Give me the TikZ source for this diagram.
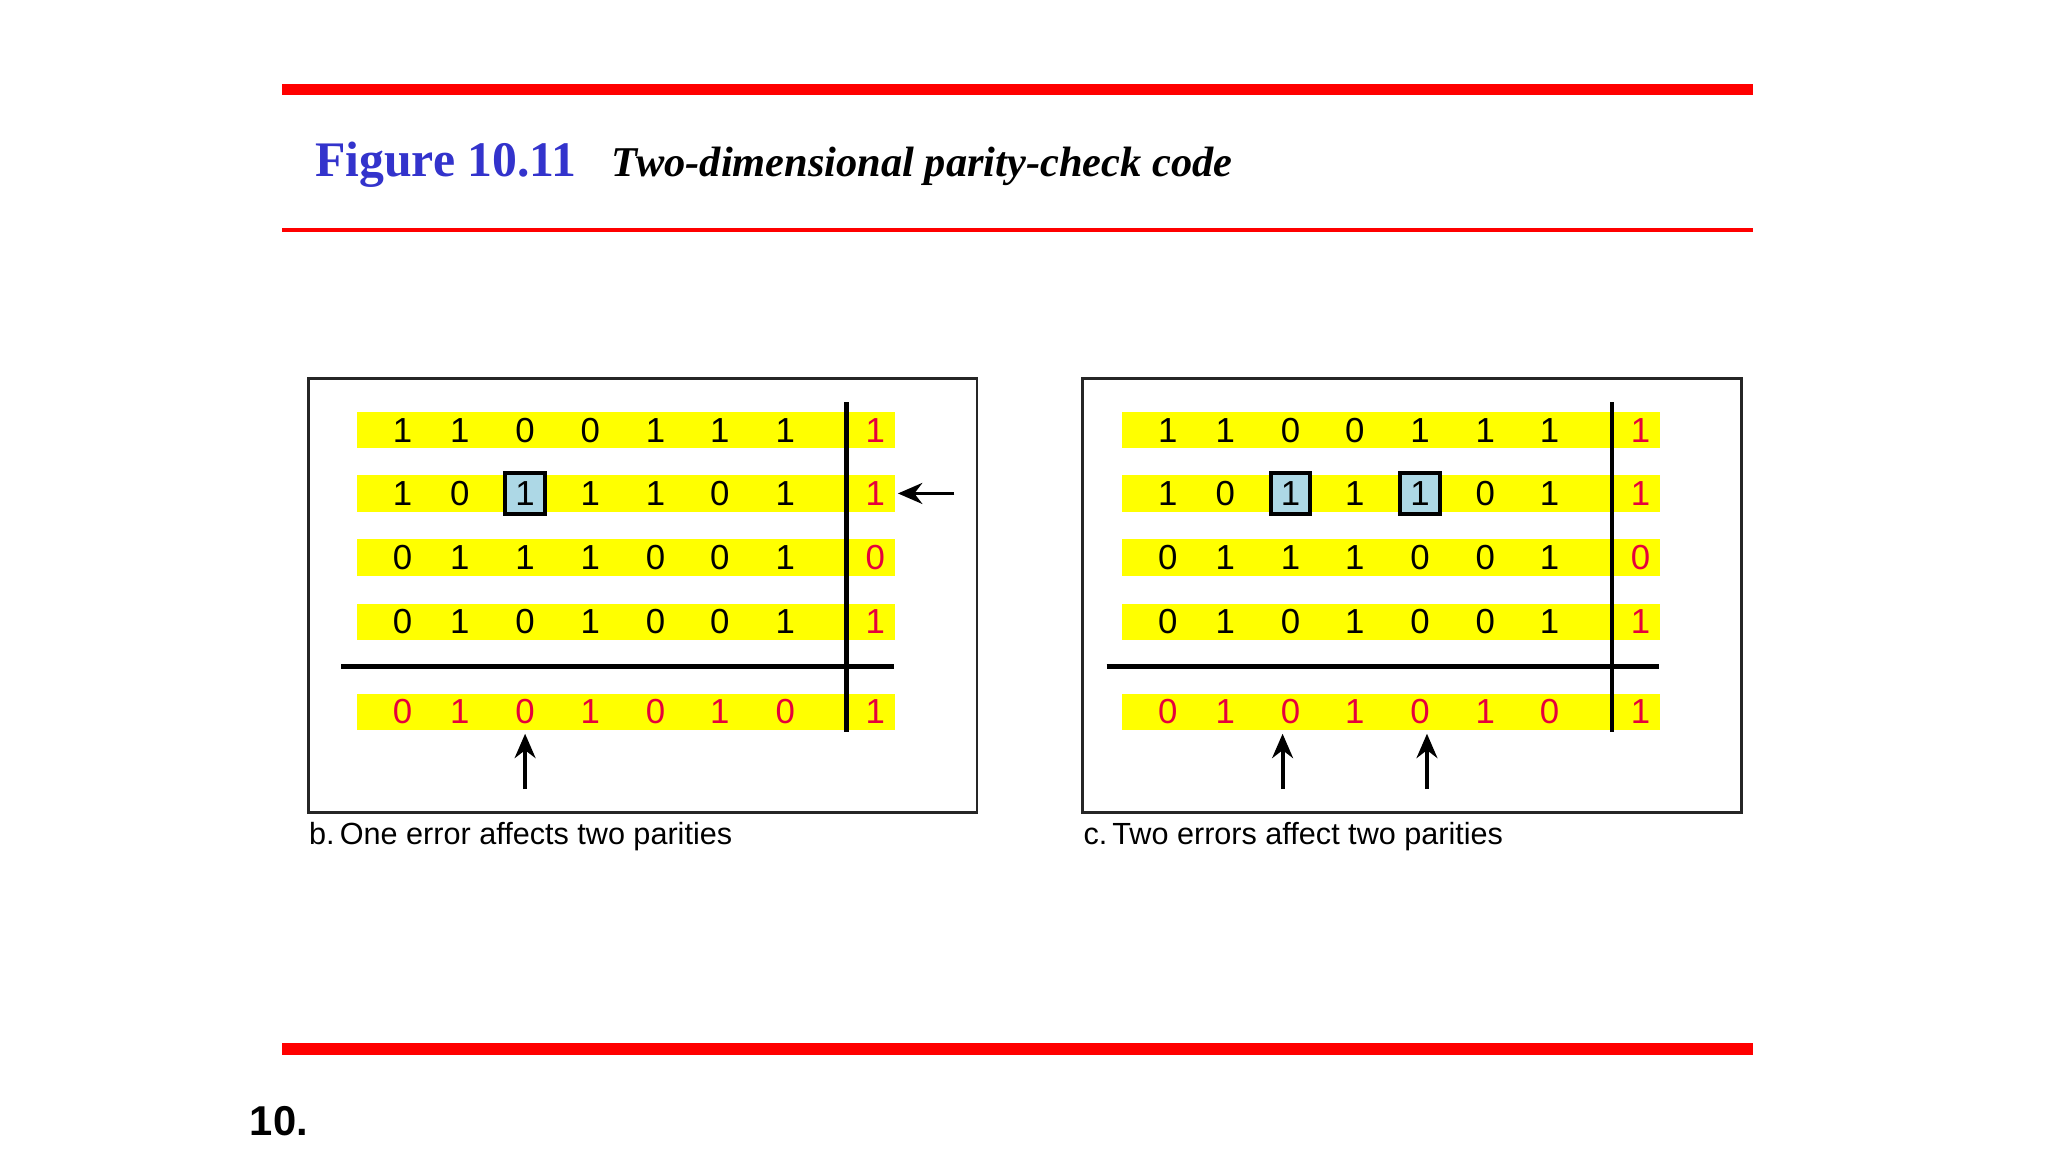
\documentclass[tikz,border=0pt]{standalone}
\usepackage{fontspec}
\setmainfont{Liberation Serif}
\setsansfont{Liberation Sans}
\usetikzlibrary{arrows.meta}
\definecolor{redbar}{RGB}{255,0,0}
\definecolor{titleblue}{RGB}{51,51,204}
\definecolor{yel}{RGB}{255,255,0}
\definecolor{par}{RGB}{230,0,60}
\definecolor{lblue}{RGB}{173,216,230}
\tikzset{
 dig/.style={font=\sffamily\fontsize{10}{12}\selectfont, inner sep=0pt, anchor=center},
 pdig/.style={dig, text=par},
 errbox/.style={draw=black, line width=1.2pt, fill=lblue, minimum width=0.4cm, minimum height=0.42cm},
 rule/.style={line width=1.3pt},
 arr/.style={-{Stealth[length=7pt,width=6pt]}, line width=1.1pt},
 panel/.style={draw=black!85, line width=0.8pt},
 captext/.style={font=\sffamily\fontsize{8.8}{11}\selectfont, anchor=west, inner sep=0pt}
}
\begin{document}
\begin{tikzpicture}[x=0.01cm,y=-0.01cm]
\useasboundingbox (0,0) rectangle (2071,1165);
\fill[redbar] (285,85) rectangle (1773,96);
\fill[redbar] (285,231) rectangle (1773,234.5);
\fill[redbar] (285,1055) rectangle (1773,1067);
\node[anchor=base west, inner sep=0pt, text=titleblue, font=\bfseries\fontsize{14.3}{16}\selectfont] (title) at (318,178) {Figure 10.11};
\node[anchor=base west, inner sep=0pt, font=\bfseries\itshape\fontsize{12.2}{15}\selectfont] (sub) at (618,178) {Two-dimensional parity-check code};
\node[anchor=west, inner sep=0pt, font=\sffamily\bfseries\fontsize{12}{14}\selectfont] (pg) at (252,1134) {10.};

% ---- Left panel
\draw[panel] (312,383) rectangle (988,822);
\foreach \y in {435,499,564,629,720} \fill[yel] (361,\y-18.5) rectangle (905,\y+18.5);
\node[errbox] (eb) at (531,499) {};
\foreach \r/\y/\bits/\p in {1/435/{1,1,0,0,1,1,1}/1, 2/499/{1,0,1,1,1,0,1}/1, 3/564/{0,1,1,1,0,0,1}/0, 4/629/{0,1,0,1,0,0,1}/1}{
  \foreach \b [count=\i] in \bits {
    \pgfmathsetmacro{\xx}{{407,465,531,597,663,728,794}[\i-1]}
    \node[dig] (bL\r\i) at (\xx,\y) {\b};
  }
  \node[pdig] (bLp\r) at (885,\y) {\p};
}
\foreach \b [count=\i] in {0,1,0,1,0,1,0} {
  \pgfmathsetmacro{\xx}{{407,465,531,597,663,728,794}[\i-1]}
  \node[pdig] (bL5\i) at (\xx,720) {\b};
}
\node[pdig] (bLp5) at (885,720) {1};
\draw[rule] (856,407) -- (856,740);
\draw[rule] (345,674) -- (904,674);
\coordinate (aR) at (965,499);
\coordinate (aU) at (531,798);
\coordinate (aUt) at (531,742);
\coordinate (aRt) at (908,499);
\draw[arr] (aR) -- (aRt);
\draw[arr] (aU) -- (aUt);
\node[captext] (capb) at (312,846) {b.\,One error affects two parities};

% ---- Right panel
\draw[panel] (1095,383) rectangle (1761,822);
\foreach \y in {435,499,564,629,720} \fill[yel] (1135,\y-18.5) rectangle (1679,\y+18.5);
\node[errbox] (ec1) at (1305,499) {};
\node[errbox] (ec2) at (1436,499) {};
\foreach \r/\y/\bits/\p in {1/435/{1,1,0,0,1,1,1}/1, 2/499/{1,0,1,1,1,0,1}/1, 3/564/{0,1,1,1,0,0,1}/0, 4/629/{0,1,0,1,0,0,1}/1}{
  \foreach \b [count=\i] in \bits {
    \pgfmathsetmacro{\xx}{{1181,1239,1305,1370,1436,1502,1567}[\i-1]}
    \node[dig] (cR\r\i) at (\xx,\y) {\b};
  }
  \node[pdig] (cRp\r) at (1659,\y) {\p};
}
\foreach \b [count=\i] in {0,1,0,1,0,1,0} {
  \pgfmathsetmacro{\xx}{{1181,1239,1305,1370,1436,1502,1567}[\i-1]}
  \node[pdig] (cR5\i) at (\xx,720) {\b};
}
\node[pdig] (cRp5) at (1659,720) {1};
\draw[rule] (1630,407) -- (1630,740);
\draw[rule] (1119,674) -- (1678,674);
\coordinate (cU1) at (1297,798);
\coordinate (cU1t) at (1297,742);
\coordinate (cU2) at (1443,798);
\coordinate (cU2t) at (1443,742);
\draw[arr] (cU1) -- (cU1t);
\draw[arr] (cU2) -- (cU2t);
\node[captext] (capc) at (1095,846) {c.\,Two errors affect two parities};
\end{tikzpicture}
\end{document}
